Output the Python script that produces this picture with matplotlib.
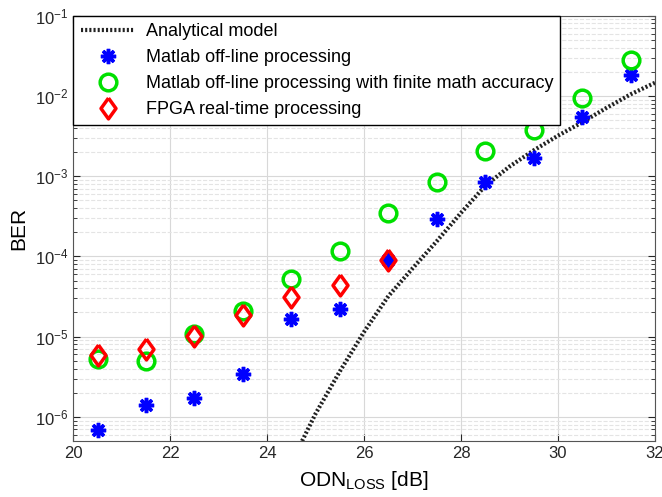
import matplotlib
matplotlib.use("Agg")
import matplotlib.pyplot as plt

plt.rcParams['font.family'] = ['Liberation Sans', 'DejaVu Sans']
plt.rcParams['mathtext.fontset'] = 'custom'
plt.rcParams['mathtext.rm'] = 'Liberation Sans'
plt.rcParams['mathtext.it'] = 'Liberation Sans:italic'

# measured points
odn = [20.5, 21.5, 22.5, 23.5, 24.5, 25.5, 26.5, 27.5, 28.5, 29.5, 30.5, 31.5]
ber_matlab = [6.9e-7, 1.4e-6, 1.7e-6, 3.4e-6, 1.64e-5, 2.24e-5, 9.0e-5,
              2.9e-4, 8.4e-4, 1.7e-3, 5.5e-3, 1.8e-2]
ber_finite = [5.2e-6, 5.0e-6, 1.07e-5, 2.1e-5, 5.3e-5, 1.16e-4, 3.45e-4,
              8.5e-4, 2.06e-3, 3.75e-3, 9.35e-3, 2.8e-2]
odn_fpga = [20.5, 21.5, 22.5, 23.5, 24.5, 25.5, 26.5]
ber_fpga = [5.9e-6, 7.1e-6, 1.03e-5, 1.85e-5, 3.1e-5, 4.36e-5, 9.1e-5]

# analytical model
odn_model = [24.72, 25.0, 25.5, 26.0, 26.5, 27.0, 27.5, 28.0, 28.5, 29.0,
             29.5, 30.0, 30.5, 31.0, 31.5, 32.0]
ber_model = [5.0e-7, 1.1e-6, 3.7e-6, 1.15e-5, 3.2e-5, 7.1e-5, 1.55e-4, 3.5e-4,
             7.6e-4, 1.32e-3, 2.1e-3, 3.2e-3, 4.7e-3, 7.1e-3, 1.05e-2, 1.46e-2]

# matlab style diamond, a bit wider than mpl's thin 'd'
diamond = [(0, 1), (0.72, 0), (0, -1), (-0.72, 0), (0, 1)]

fig = plt.figure(figsize=(6.62, 4.97), dpi=100)
ax = fig.add_axes([0.1107, 0.1127, 0.8787, 0.8557])

ax.semilogy(odn_model, ber_model, linestyle=(0, (0.5, 0.5)), color='#222222',
            lw=3, label='Analytical model')
ax.semilogy(odn, ber_matlab, linestyle='none', marker=(8, 2, 0), color='blue',
            ms=11, mew=2.5, label='Matlab off-line processing')
ax.semilogy(odn, ber_finite, linestyle='none', marker='o', mfc='none',
            mec='#00e000', ms=12, mew=2.5,
            label='Matlab off-line processing with finite math accuracy')
ax.semilogy(odn_fpga, ber_fpga, linestyle='none', marker=diamond, mfc='none',
            mec='red', ms=15, mew=2.5, label='FPGA real-time processing')

ax.set_xlim(20, 32)
ax.set_ylim(5e-7, 1e-1)
ax.set_xticks([20, 22, 24, 26, 28, 30, 32])
ax.grid(True, which='major', color='#d8d8d8', lw=0.8)
ax.grid(True, which='minor', axis='y', color='#e4e4e4', lw=0.8, linestyle='--')
ax.tick_params(which='both', direction='in', top=True, right=True,
               labelsize=12, colors='#262626')
ax.tick_params(which='major', length=5)
ax.tick_params(which='minor', length=3)
for s in ax.spines.values():
    s.set_color('#555555')

ax.set_xlabel(r'ODN$_{\mathrm{LOSS}}$ [dB]', fontsize=15, labelpad=6)
ax.set_ylabel('BER', fontsize=15, labelpad=5)

leg = ax.legend(loc='upper left', bbox_to_anchor=(0, 1), borderaxespad=0,
                fontsize=13, handlelength=3.0, handletextpad=0.6,
                labelspacing=0.5, fancybox=False, framealpha=1,
                edgecolor='black', numpoints=1)
leg.get_frame().set_linewidth(1.0)

fig.savefig('out.png', dpi=100)
